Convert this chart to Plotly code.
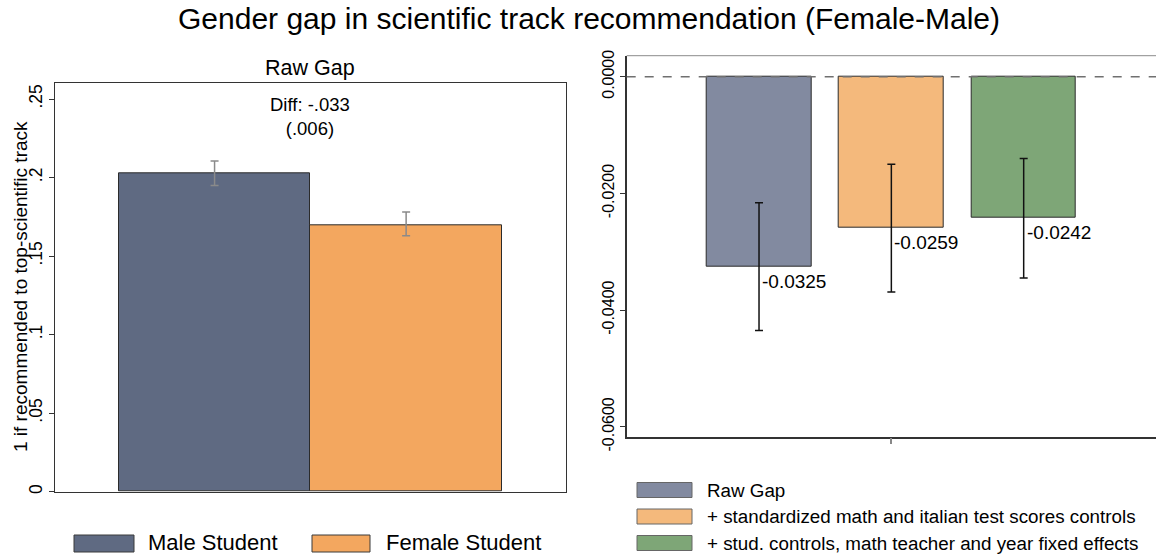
import plotly.graph_objects as go

# ---------------- data ----------------
left_categories = ["Male Student", "Female Student"]
left_pos = [1, 2]
left_means = [0.2025, 0.1695]
left_ci_low = [0.1950, 0.1630]
left_ci_high = [0.2105, 0.1780]
left_colors = ["#5f6a82", "#f3a75f"]
diff_se = 0.006
left_tickvals = [0, 0.05, 0.10, 0.15, 0.20, 0.25]
left_ticktext = ["0", ".05", ".1", ".15", ".2", ".25"]

right_categories = ["Raw Gap",
                    "+ standardized math and italian test scores controls",
                    "+ stud. controls, math teacher and year fixed effects"]
right_pos = [1, 2, 3]
right_values = [-0.0325, -0.0259, -0.0242]
right_ci_low = [-0.0435, -0.0369, -0.0345]
right_ci_high = [-0.0216, -0.0150, -0.0140]
right_colors = ["#828aa0", "#f4b97c", "#7ea677"]
right_tickvals = [0.0, -0.02, -0.04, -0.06]

FONT = "Liberation Sans, Arial, Helvetica, sans-serif"
W, H = 1156, 556


def px_x(p):
    return p / W


def px_y(p):
    return 1 - p / H


fig = go.Figure()

fig.add_trace(go.Bar(
    x=left_pos, y=left_means, width=1.0,
    marker=dict(color=left_colors, line=dict(color="#2b2b2b", width=1)),
    error_y=dict(type="data", symmetric=False,
                 array=[h - m for h, m in zip(left_ci_high, left_means)],
                 arrayminus=[m - l for m, l in zip(left_means, left_ci_low)],
                 color="#8a8a8a", thickness=1.5, width=4),
    xaxis="x", yaxis="y", showlegend=False, hoverinfo="skip"))

fig.add_trace(go.Bar(
    x=right_pos, y=right_values, width=0.79,
    marker=dict(color=right_colors, line=dict(color="#2b2b2b", width=1)),
    error_y=dict(type="data", symmetric=False,
                 array=[h - v for h, v in zip(right_ci_high, right_values)],
                 arrayminus=[v - l for v, l in zip(right_values, right_ci_low)],
                 color="#111111", thickness=1.5, width=4),
    xaxis="x2", yaxis="y2", showlegend=False, hoverinfo="skip"))

annotations = []
shapes = []

annotations.append(dict(text="Gender gap in scientific track recommendation (Female-Male)",
                        x=px_x(589), y=px_y(18), xref="paper", yref="paper",
                        showarrow=False, font=dict(size=30, color="#000"),
                        xanchor="center", yanchor="middle"))
lx0, lx1 = px_x(55), px_x(565.7)
annotations.append(dict(text="Raw Gap", x=(lx0 + lx1) / 2, y=px_y(68), xref="paper", yref="paper",
                        showarrow=False, font=dict(size=21.5, color="#000"),
                        xanchor="center", yanchor="middle"))
diff = left_means[1] - left_means[0]
diff_txt = f"{diff:.3f}".replace("0.", ".", 1)
se_txt = f"{diff_se:.3f}".replace("0.", ".", 1)
annotations.append(dict(text=f"Diff: {diff_txt}<br>({se_txt})", x=sum(left_pos) / 2, y=px_y(116),
                        xref="x", yref="paper", showarrow=False,
                        font=dict(size=18.5, color="#000"), xanchor="center", yanchor="middle"))
annotations.append(dict(text="1 if recommended to top-scientific track", x=px_x(20), y=px_y(287),
                        xref="paper", yref="paper", showarrow=False, textangle=-90,
                        font=dict(size=19, color="#000"), xanchor="center", yanchor="middle"))

for p, v in zip(right_pos, right_values):
    annotations.append(dict(text=f"{v:.4f}", x=p, y=v, xref="x2", yref="y2",
                            showarrow=False, xanchor="left", yanchor="middle",
                            xshift=1, yshift=-15, font=dict(size=19, color="#000")))

shapes.append(dict(type="line", xref="x2 domain", yref="y2", x0=0, x1=1, y0=0, y1=0,
                   line=dict(color="#707070", width=1.5, dash="dash"), layer="above"))
shapes.append(dict(type="line", xref="x2 domain", yref="y2 domain", x0=0, x1=1, y0=1, y1=1,
                   line=dict(color="#8c8c8c", width=1)))

left_leg = [(74, 134, 146), (312, 370, 384)]
for (sx0, sx1, tx), name, col in zip(left_leg, left_categories, left_colors):
    shapes.append(dict(type="rect", xref="paper", yref="paper",
                       x0=px_x(sx0), x1=px_x(sx1), y0=px_y(552), y1=px_y(535),
                       fillcolor=col, line=dict(color="#3a3a3a", width=1)))
    annotations.append(dict(text=name, x=px_x(tx), y=px_y(542), xref="paper", yref="paper",
                            showarrow=False, xanchor="left", yanchor="middle",
                            font=dict(size=22, color="#000")))

row_y = [490, 516.5, 543]
for ry, name, col in zip(row_y, right_categories, right_colors):
    shapes.append(dict(type="rect", xref="paper", yref="paper",
                       x0=px_x(637), x1=px_x(692), y0=px_y(ry + 7.5), y1=px_y(ry - 7.5),
                       fillcolor=col, line=dict(color="#666666", width=1)))
    annotations.append(dict(text=name, x=px_x(705), y=px_y(ry), xref="paper", yref="paper",
                            showarrow=False, xanchor="left", yanchor="middle",
                            font=dict(size=18.8, color="#000")))

fig.update_layout(
    width=W, height=H,
    margin=dict(l=0, r=0, t=0, b=0),
    paper_bgcolor="white", plot_bgcolor="white",
    font=dict(family=FONT, color="#000"),
    showlegend=False,
    bargap=0,
    xaxis=dict(domain=[lx0, lx1], range=[0.167, 2.833], showline=True, linecolor="#333",
               linewidth=1.2, mirror=True, showticklabels=False, ticks="", showgrid=False,
               zeroline=False, anchor="y", automargin=False),
    yaxis=dict(domain=[px_y(491.7), px_y(83.3)], range=[0, 0.26], tickvals=left_tickvals,
               ticktext=left_ticktext, tickangle=-90, ticks="outside", ticklen=5,
               tickcolor="#333", showline=True, linecolor="#333", linewidth=1.2, mirror=True,
               showgrid=False, zeroline=False, tickfont=dict(size=17.5), anchor="x",
               automargin=False),
    xaxis2=dict(domain=[px_x(626.7), 1.0], range=[0, 4], tickvals=[2], ticktext=[""],
                ticks="outside", ticklen=6, tickcolor="#888", tickwidth=2, showline=True,
                linecolor="#333", linewidth=1.5, showgrid=False, zeroline=False, anchor="y2",
                automargin=False),
    yaxis2=dict(domain=[px_y(436.7), px_y(55.7)], range=[-0.0617, 0.0036],
                tickvals=right_tickvals, ticktext=[f"{v:.4f}" for v in right_tickvals],
                tickangle=-90, ticks="outside", ticklen=5, tickcolor="#333",
                showline=True, linecolor="#333", linewidth=1.5, showgrid=False,
                zeroline=False, tickfont=dict(size=16), anchor="x2", automargin=False),
    annotations=annotations,
    shapes=shapes,
)

fig.write_html("out.html")
